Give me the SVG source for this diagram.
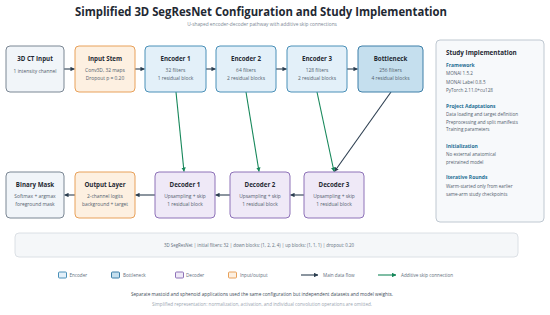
<svg xmlns="http://www.w3.org/2000/svg" width="550" height="315" viewBox="0 0 550 315">
<defs>
<style>
text{font-family:"Open Sans","Noto Sans","Liberation Sans",sans-serif;}
.title{font-size:12.5px;font-weight:700;fill:#1f2933;}
.sub{font-size:4.8px;fill:#7b8794;}
.nt{font-size:6.2px;font-weight:700;fill:#1f2933;text-anchor:middle;}
.nb{font-size:4.9px;fill:#52606d;text-anchor:middle;}
.io{fill:#f1f5f9;stroke:#7b8794;stroke-width:1;}
.or{fill:#fdf0e1;stroke:#e8a15a;stroke-width:1;}
.enc{fill:#e3f0f9;stroke:#4a90b8;stroke-width:1;}
.bot{fill:#c5dfee;stroke:#3d7fa8;stroke-width:1;}
.dec{fill:#efe9f7;stroke:#8e72b8;stroke-width:1;}
.main{stroke:#2c3e50;stroke-width:1.1;fill:none;}
.skip{stroke:#16875a;stroke-width:1.1;fill:none;}
.ph{font-size:6.3px;font-weight:700;fill:#1f2933;}
.sh{font-size:5px;font-weight:700;fill:#1f6f94;}
.sb{font-size:4.6px;fill:#52606d;}
.lg{font-size:4.6px;fill:#616e7c;}
</style>
<marker id="am" viewBox="0 0 6 6" refX="5.5" refY="3" markerWidth="4" markerHeight="4" orient="auto"><path d="M0,0 L6,3 L0,6 z" fill="#2c3e50"/></marker>
<marker id="as" viewBox="0 0 6 6" refX="5.5" refY="3" markerWidth="4" markerHeight="4" orient="auto"><path d="M0,0 L6,3 L0,6 z" fill="#16875a"/></marker>
</defs>
<rect width="550" height="315" fill="#ffffff"/>
<text class="title" x="261" y="15.5" text-anchor="middle" textLength="372" lengthAdjust="spacingAndGlyphs">Simplified 3D SegResNet Configuration and Study Implementation</text>
<text class="sub" x="262" y="26" text-anchor="middle">U-shaped encoder-decoder pathway with additive skip connections</text>

<g id="connectors">
<line class="main" x1="64" y1="69" x2="74.5" y2="69" marker-end="url(#am)"/>
<line class="main" x1="135" y1="69" x2="144.5" y2="69" marker-end="url(#am)"/>
<line class="main" x1="206" y1="69" x2="215.5" y2="69" marker-end="url(#am)"/>
<line class="main" x1="276" y1="69" x2="286.5" y2="69" marker-end="url(#am)"/>
<line class="main" x1="347" y1="69" x2="357.5" y2="69" marker-end="url(#am)"/>
<line class="main" x1="391" y1="92" x2="334.5" y2="171.5" marker-end="url(#am)"/>
<line class="main" x1="304" y1="195" x2="290.5" y2="195" marker-end="url(#am)"/>
<line class="main" x1="230" y1="195" x2="215.5" y2="195" marker-end="url(#am)"/>
<line class="main" x1="155" y1="195" x2="135.5" y2="195" marker-end="url(#am)"/>
<line class="main" x1="75" y1="195" x2="64.5" y2="195" marker-end="url(#am)"/>
<line class="skip" x1="176" y1="92" x2="184" y2="171.5" marker-end="url(#as)"/>
<line class="skip" x1="246" y1="92" x2="259" y2="171.5" marker-end="url(#as)"/>
<line class="skip" x1="317" y1="92" x2="334" y2="171.5" marker-end="url(#as)"/>
</g>

<g id="input">
<rect class="io" x="6" y="46" width="58" height="46" rx="4"/>
<text class="nt" x="35" y="61">3D CT Input</text>
<text class="nb" x="35" y="72.5">1 intensity channel</text>
</g>
<g id="stem">
<rect class="or" x="75" y="46" width="60" height="46" rx="4"/>
<text class="nt" x="105" y="61">Input Stem</text>
<text class="nb" x="105" y="71.5">Conv3D, 32 maps</text>
<text class="nb" x="105" y="79.5">Dropout p = 0.20</text>
</g>
<g id="enc1">
<rect class="enc" x="145" y="46" width="61" height="46" rx="4"/>
<text class="nt" x="175.5" y="61">Encoder 1</text>
<text class="nb" x="175.5" y="71.5">32 filters</text>
<text class="nb" x="175.5" y="79.5">1 residual block</text>
</g>
<g id="enc2">
<rect class="enc" x="216" y="46" width="60" height="46" rx="4"/>
<text class="nt" x="246" y="61">Encoder 2</text>
<text class="nb" x="246" y="71.5">64 filters</text>
<text class="nb" x="246" y="79.5">2 residual blocks</text>
</g>
<g id="enc3">
<rect class="enc" x="287" y="46" width="60" height="46" rx="4"/>
<text class="nt" x="317" y="61">Encoder 3</text>
<text class="nb" x="317" y="71.5">128 filters</text>
<text class="nb" x="317" y="79.5">2 residual blocks</text>
</g>
<g id="bottleneck">
<rect class="bot" x="358" y="46" width="65" height="46" rx="4"/>
<text class="nt" x="390.5" y="61">Bottleneck</text>
<text class="nb" x="390.5" y="71.5">256 filters</text>
<text class="nb" x="390.5" y="79.5">4 residual blocks</text>
</g>

<g id="mask">
<rect class="io" x="6" y="172" width="58" height="46" rx="4"/>
<text class="nt" x="35" y="187">Binary Mask</text>
<text class="nb" x="35" y="197.5">Softmax + argmax</text>
<text class="nb" x="35" y="205.5">foreground mask</text>
</g>
<g id="output">
<rect class="or" x="75" y="172" width="60" height="46" rx="4"/>
<text class="nt" x="105" y="187">Output Layer</text>
<text class="nb" x="105" y="197.5">2-channel logits</text>
<text class="nb" x="105" y="205.5">background + target</text>
</g>
<g id="dec1">
<rect class="dec" x="155" y="172" width="60" height="46" rx="4"/>
<text class="nt" x="185" y="187">Decoder 1</text>
<text class="nb" x="185" y="197.5">Upsampling + skip</text>
<text class="nb" x="185" y="205.5">1 residual block</text>
</g>
<g id="dec2">
<rect class="dec" x="230" y="172" width="60" height="46" rx="4"/>
<text class="nt" x="260" y="187">Decoder 2</text>
<text class="nb" x="260" y="197.5">Upsampling + skip</text>
<text class="nb" x="260" y="205.5">1 residual block</text>
</g>
<g id="dec3">
<rect class="dec" x="304" y="172" width="60" height="46" rx="4"/>
<text class="nt" x="334" y="187">Decoder 3</text>
<text class="nb" x="334" y="197.5">Upsampling + skip</text>
<text class="nb" x="334" y="205.5">1 residual block</text>
</g>

<g id="study">
<rect x="436" y="40" width="108" height="182" rx="4" fill="#f7f9fb" stroke="#b8c2cc" stroke-width="0.9"/>
<text class="ph" x="446" y="54.5">Study Implementation</text>
<text class="sh" x="446" y="67">Framework</text>
<text class="sb" x="446" y="75">MONAI 1.5.2</text>
<text class="sb" x="446" y="83.5">MONAI Label 0.8.5</text>
<text class="sb" x="446" y="92">PyTorch 2.11.0+cu128</text>
<text class="sh" x="446" y="108">Project Adaptations</text>
<text class="sb" x="446" y="116">Data loading and target definition</text>
<text class="sb" x="446" y="123.5">Preprocessing and split manifests</text>
<text class="sb" x="446" y="131">Training parameters</text>
<text class="sh" x="446" y="147.5">Initialization</text>
<text class="sb" x="446" y="155.5">No external anatomical</text>
<text class="sb" x="446" y="164">pretrained model</text>
<text class="sh" x="446" y="179">Iterative Rounds</text>
<text class="sb" x="446" y="187.5">Warm-started only from earlier</text>
<text class="sb" x="446" y="196">same-arm study checkpoints</text>
</g>

<g id="summary">
<rect x="15" y="233" width="503" height="24" rx="4" fill="#f5f7f9" stroke="#d8dde2" stroke-width="0.9"/>
<text class="sb" x="259" y="246.5" text-anchor="middle" style="font-size:4.4px;fill:#616e7c">3D SegResNet | initial filters: 32 | down blocks: (1, 2, 2, 4) | up blocks: (1, 1, 1) | dropout: 0.20</text>
</g>

<g id="legend">
<rect x="58.5" y="272" width="8" height="6" rx="1" class="enc" stroke-width="0.8"/>
<text class="lg" x="69.5" y="276.8">Encoder</text>
<rect x="111.5" y="272" width="8" height="6" rx="1" class="bot" stroke-width="0.8"/>
<text class="lg" x="123" y="276.8">Bottleneck</text>
<rect x="175.5" y="272" width="8" height="6" rx="1" class="dec" stroke-width="0.8"/>
<text class="lg" x="186" y="276.8">Decoder</text>
<rect x="228.5" y="272" width="8" height="6" rx="1" class="or" stroke-width="0.8"/>
<text class="lg" x="240" y="276.8">Input/output</text>
<line class="main" x1="301" y1="275" x2="318" y2="275" stroke-width="1.3" marker-end="url(#am)"/>
<text class="lg" x="323" y="276.8">Main data flow</text>
<line class="skip" x1="378" y1="275" x2="396" y2="275" stroke-width="1.3" marker-end="url(#as)"/>
<text class="lg" x="401" y="276.8">Additive skip connection</text>
</g>

<text x="262" y="295.5" text-anchor="middle" style="font-size:4.7px;fill:#3e4c59">Separate mastoid and sphenoid applications used the same configuration but independent datasets and model weights.</text>
<text x="262" y="306" text-anchor="middle" style="font-size:4.6px;fill:#9aa5b1">Simplified representation: normalization, activation, and individual convolution operations are omitted.</text>
</svg>
